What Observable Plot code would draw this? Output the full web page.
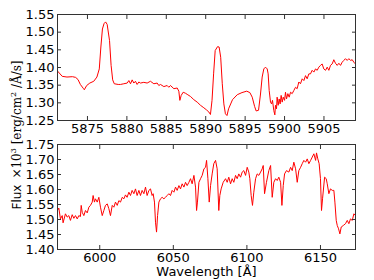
<!DOCTYPE html>
<html><head><meta charset="utf-8">
<script src="https://cdn.jsdelivr.net/npm/d3@7"></script>
<script src="https://cdn.jsdelivr.net/npm/@observablehq/plot@0.6"></script>
<style>
body{margin:0;background:#fff}
#wrap{position:relative;width:374px;height:280px;overflow:hidden;background:#fff}
#p1,#p2{position:absolute;left:0}
#p1{top:0}
#p2{top:134px}
#ylab{position:absolute;left:17px;top:135px;white-space:nowrap;transform:translate(-50%,-50%) rotate(-90deg);font-size:12px;line-height:14px;color:#000}
#ylab .s{font-family:"DejaVu Sans"}
#ylab .m{font-family:"DejaVu Serif"}
#ylab sup{font-size:8px;vertical-align:5px;line-height:0}
</style></head>
<body>
<div id="wrap"><div id="p1"></div><div id="p2"></div>
<div id="ylab"><span class="s">Flux</span>&nbsp;&nbsp;<span class="m">×10<sup>3</sup> [erg/cm<sup>2</sup> /Å/s]</span></div>
</div>
<script>
const topWave = [5871.2,5871.8,5872.4,5873.1,5873.5,5873.8,5874.1,5874.5,5874.6,5874.9,5875.3,5875.8,5876.2,5876.5,5876.7,5876.9,5877.1,5877.3,5877.5,5877.8,5878.0,5878.2,5878.4,5878.9,
5879.19,5879.61,5880.04,5880.25,5880.46,5880.67,5880.88,5881.09,5881.30,5881.52,5881.73,5882.15,5882.57,5882.99,5883.42,5883.84,5884.05,5884.26,5884.69,5885.11,5885.32,5885.53,5885.96,5886.38,5886.59,5886.72,5886.89,5887.14,5887.44,5887.65,5888.07,5888.49,5888.92,5889.34,5889.76,5890.10,
5890.4,5890.6,5890.8,5891.0,5891.2,5891.5,5891.7,5891.9,5892.1,5892.3,5892.5,5892.7,5892.9,5893.4,5894.0,5894.6,5895.2,5895.6,5895.9,5896.2,5896.4,5896.7,
5896.95,5897.16,5897.37,5897.58,5897.80,5897.92,5898.05,5898.22,5898.35,5898.47,5898.64,5898.77,5898.85,5898.98,5899.06,5899.19,5899.32,5899.44,5899.57,5899.70,5899.83,5900.00,5900.12,5900.25,5900.42,5900.59,5900.76,5900.97,5901.18,5901.39,5901.60,5901.81,5902.02,5902.24,5902.45,5902.66,5902.87,5903.08,5903.29,5903.50,5903.72,5903.93,5904.14,5904.35,5904.56,5904.77,5904.98,5905.20,5905.41,5905.62,5905.83,5906.04,5906.25,5906.46,5906.68,5906.89,5907.10,5907.31,5907.52,5907.73,5907.94,5908.16,5908.37,5908.58,5908.79,5909.00];
const topFlux = [1.390,1.375,1.373,1.374,1.372,1.366,1.352,1.340,1.337,1.349,1.356,1.361,1.373,1.396,1.458,1.509,1.524,1.529,1.522,1.476,1.406,1.365,1.354,1.352,
1.352,1.354,1.356,1.363,1.354,1.365,1.356,1.361,1.352,1.359,1.356,1.358,1.356,1.361,1.354,1.356,1.349,1.352,1.346,1.349,1.344,1.349,1.340,1.342,1.333,1.307,1.321,1.330,1.327,1.324,1.318,1.309,1.302,1.293,1.286,1.280,
1.274,1.267,1.307,1.382,1.448,1.459,1.458,1.429,1.354,1.297,1.269,1.264,1.283,1.309,1.323,1.329,1.333,1.329,1.316,1.290,1.277,1.279,
1.325,1.373,1.396,1.401,1.396,1.382,1.335,1.302,1.297,1.307,1.278,1.266,1.293,1.283,1.316,1.293,1.311,1.297,1.321,1.302,1.316,1.307,1.330,1.311,1.326,1.316,1.330,1.326,1.335,1.344,1.340,1.359,1.354,1.368,1.363,1.377,1.368,1.382,1.382,1.392,1.387,1.396,1.392,1.401,1.406,1.410,1.396,1.392,1.401,1.392,1.406,1.410,1.422,1.412,1.406,1.412,1.406,1.415,1.420,1.425,1.420,1.425,1.420,1.422,1.415,1.410];

const botWave = [5971.3,5972.2,5973.3,5974.5,5975.1,5976.7,5977.9,5979.0,5980.1,5981.3,5982.4,5983.5,5984.7,5985.8,5986.9,5987.4,5988.1,5989.2,5990.3,5991.5,5992.6,5993.7,5994.9,5995.5,5996.4,5997.1,5998.3,5999.4,6000.5,6001.7,6002.8,6003.9,6005.1,6006.2,6007.3,6008.5,6009.6,6010.7,6011.9,6013.0,6014.1,6015.3,6016.4,6017.5,6018.6,6019.8,6020.9,6022.0,6023.2,6024.3,6025.4,6026.6,6027.7,6028.8,6030.0,6031.1,6032.2,6033.4,6034.5,6035.6,6036.3,6037.2,6037.9,6038.6,6039.3,6040.2,6041.3,6042.4,6043.6,6044.7,6045.8,6047.0,6048.1,6049.2,6050.4,6051.5,6052.6,6053.8,6054.9,6056.0,6057.2,6058.3,6059.4,6060.6,6061.7,6062.8,6064.0,6065.1,6065.8,6066.4,6067.4,6068.5,
6069.6,6070.8,6071.9,6072.6,6073.5,6074.4,6075.3,6076.4,6077.5,6078.7,6079.8,6080.9,6081.6,6082.5,6083.9,6085.5,6086.6,6087.7,6088.9,6090.0,6091.1,6092.3,6093.4,6094.5,6095.7,6096.8,6097.9,6099.1,6100.2,6101.3,6102.0,6102.9,6103.8,6104.7,6105.9,6107.0,6108.1,6109.3,6110.4,6111.1,6112.0,6113.3,6114.9,6116.1,6117.2,6118.3,6119.5,6120.6,6121.7,6122.9,6123.8,6124.7,6125.6,6126.9,6128.5,6129.7,6130.8,6131.9,6133.1,6134.2,6135.3,6136.5,6137.6,6138.7,6139.9,6141.0,6142.1,6143.3,6144.4,6145.5,6146.7,6147.3,6148.2,6149.1,6150.0,6150.7,6151.4,6152.8,6153.9,6154.6,6155.7,6156.8,6158.0,6159.1,6159.8,6160.7,6161.4,6162.3,6163.2,6164.1,6165.5,6167.0,6168.2,6169.3,6170.4,6171.6,6172.7,6173.8];
const botFlux = [1.530,1.538,1.502,1.513,1.489,1.519,1.508,1.513,1.497,1.516,1.504,1.513,1.502,1.513,1.510,1.547,1.524,1.513,1.530,1.522,1.541,1.547,1.558,1.580,1.558,1.569,1.558,1.574,1.541,1.513,1.530,1.547,1.552,1.536,1.513,1.547,1.541,1.558,1.547,1.563,1.558,1.574,1.569,1.582,1.574,1.591,1.580,1.597,1.586,1.602,1.580,1.597,1.580,1.597,1.586,1.608,1.580,1.597,1.602,1.580,1.586,1.558,1.491,1.458,1.513,1.558,1.569,1.574,1.569,1.574,1.580,1.586,1.580,1.597,1.591,1.608,1.597,1.613,1.602,1.619,1.608,1.624,1.613,1.624,1.636,1.619,1.647,1.608,1.530,1.558,1.624,1.636,
1.647,1.669,1.674,1.697,1.636,1.558,1.613,1.652,1.686,1.697,1.669,1.530,1.580,1.602,1.624,1.636,1.624,1.641,1.619,1.636,1.624,1.647,1.636,1.652,1.641,1.658,1.663,1.647,1.674,1.658,1.636,1.580,1.547,1.591,1.636,1.652,1.647,1.658,1.669,1.680,1.586,1.624,1.663,1.680,1.574,1.624,1.636,1.630,1.641,1.624,1.547,1.613,1.652,1.663,1.658,1.674,1.663,1.691,1.669,1.624,1.663,1.674,1.686,1.697,1.691,1.702,1.686,1.697,1.708,1.719,1.697,1.722,1.702,1.686,1.636,1.530,1.569,1.641,1.636,1.619,1.586,1.602,1.597,1.597,1.558,1.497,1.480,1.469,1.452,1.475,1.480,1.486,1.497,1.486,1.502,1.497,1.519,1.513];

const topXTicks = [5875,5880,5885,5890,5895,5900,5905];
const topYTicks = [1.25,1.30,1.35,1.40,1.45,1.50,1.55];
const botXTicks = [6000,6050,6100,6150];
const botYTicks = [1.40,1.45,1.50,1.55,1.60,1.65,1.70,1.75];
const xLabel = "Wavelength [Å]";

const fmtX = d3.format("d");
const fmtY = d3.format(".2f");
const blank = () => "";
const axisColor = "#333";

function axes(xt, yt) {
  return [
    Plot.axisX(xt, {anchor: "bottom", tickSize: -4, tickPadding: 7, tickFormat: fmtX, label: null, stroke: axisColor, fill: "#000"}),
    Plot.axisX(xt, {anchor: "top", tickSize: -4, tickPadding: 7, tickFormat: blank, label: null, stroke: axisColor}),
    Plot.axisY(yt, {anchor: "left", tickSize: -4, tickPadding: 7, tickFormat: fmtY, label: null, stroke: axisColor, fill: "#000"}),
    Plot.axisY(yt, {anchor: "right", tickSize: -4, tickPadding: 7, tickFormat: blank, label: null, stroke: axisColor})
  ];
}
const style = {fontFamily: "DejaVu Sans", fontSize: "13px", background: "transparent", color: "#000", overflow: "visible"};

const topData = topWave.map((w, i) => ({w, f: topFlux[i]}));
const botData = botWave.map((w, i) => ({w, f: botFlux[i]}));

const p1 = Plot.plot({
  width: 374, height: 136,
  marginTop: 14, marginBottom: 16, marginLeft: 57, marginRight: 19,
  style,
  x: {domain: [5871.2, 5909]},
  y: {domain: [1.25, 1.55]},
  marks: [
    Plot.line(topData, {x: "w", y: "f", stroke: "#ff0000", strokeWidth: 1, clip: true}),
    ...axes(topXTicks, topYTicks),
    Plot.frame({stroke: axisColor})
  ]
});
document.getElementById("p1").append(p1);

const p2 = Plot.plot({
  width: 374, height: 146,
  marginTop: 10, marginBottom: 31, marginLeft: 57, marginRight: 19,
  style,
  x: {domain: [5971.3, 6173.8]},
  y: {domain: [1.40, 1.75]},
  marks: [
    Plot.line(botData, {x: "w", y: "f", stroke: "#ff0000", strokeWidth: 1, clip: true}),
    ...axes(botXTicks, botYTicks),
    Plot.frame({stroke: axisColor}),
    Plot.text([xLabel], {frameAnchor: "bottom", dy: 22, fontSize: 13, lineAnchor: "middle", fill: "#000"})
  ]
});
document.getElementById("p2").append(p2);
</script>
</body></html>
